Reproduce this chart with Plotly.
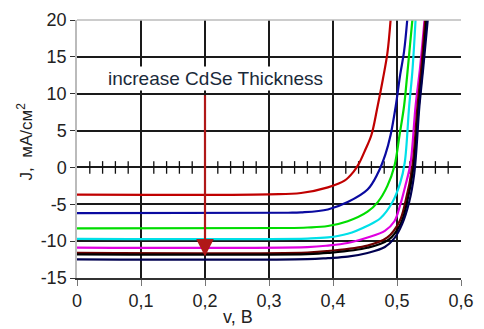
import plotly.graph_objects as go

# ---- data ----
x_ticks = [0, 0.1, 0.2, 0.3, 0.4, 0.5, 0.6]
x_tick_labels = ["0", "0,1", "0,2", "0,3", "0,4", "0,5", "0,6"]
y_ticks = [-15, -10, -5, 0, 5, 10, 15, 20]
y_tick_labels = ["-15", "-10", "-5", "0", "5", "10", "15", "20"]
minor_ticks = [0.02, 0.04, 0.06, 0.08, 0.12, 0.14, 0.16, 0.18, 0.22, 0.24, 0.26, 0.28,
               0.32, 0.34, 0.36, 0.38, 0.42, 0.44, 0.46, 0.48, 0.52, 0.54, 0.56, 0.58]

v_red = [0.0, 0.30, 0.35, 0.392, 0.418, 0.432, 0.441, 0.450, 0.460, 0.469, 0.478, 0.485, 0.490]
j_red = [-3.7, -3.65, -3.47, -2.7, -1.8, -0.6, 0.6, 2.3, 4.4, 8.0, 12.0, 15.5, 20.0]

v_blue = [0.0, 0.33, 0.35, 0.392, 0.423, 0.454, 0.470, 0.482, 0.490, 0.498, 0.505, 0.511, 0.516]
j_blue = [-6.2, -6.15, -6.1, -5.7, -4.7, -3.0, -0.8, 1.8, 4.4, 8.3, 12.6, 15.7, 20.0]

v_green = [0.0, 0.33, 0.36, 0.392, 0.423, 0.454, 0.470, 0.485, 0.496, 0.504, 0.511, 0.516, 0.524]
j_green = [-8.27, -8.22, -8.15, -7.95, -7.3, -6.0, -4.7, -2.5, 0.2, 4.4, 8.3, 12.6, 20.0]

v_cyan = [0.0, 0.36, 0.392, 0.423, 0.454, 0.474, 0.493, 0.505, 0.512, 0.519, 0.524, 0.529]
j_cyan = [-9.7, -9.65, -9.5, -9.0, -7.9, -6.9, -4.7, -2.1, 0.6, 8.3, 13.0, 20.0]

v_magenta = [0.0, 0.36, 0.392, 0.423, 0.454, 0.481, 0.496, 0.505, 0.513, 0.521, 0.529, 0.536, 0.543]
j_magenta = [-10.87, -10.8, -10.6, -10.25, -9.5, -8.6, -7.3, -5.1, -2.5, 0.5, 8.3, 13.5, 20.0]

v_maroon = [0.0, 0.36, 0.392, 0.454, 0.485, 0.504, 0.513, 0.524, 0.532, 0.538, 0.544]
j_maroon = [-11.6, -11.55, -11.35, -10.6, -9.5, -7.3, -4.7, 0.1, 8.3, 13.5, 20.0]

v_black = [0.0, 0.36, 0.392, 0.454, 0.487, 0.506, 0.515, 0.526, 0.534, 0.540, 0.546]
j_black = [-11.8, -11.75, -11.6, -10.9, -9.8, -7.6, -5.0, 0.1, 8.3, 13.5, 20.0]

v_navy = [0.0, 0.36, 0.392, 0.423, 0.454, 0.481, 0.496, 0.508, 0.519, 0.527, 0.535, 0.541, 0.548]
j_navy = [-12.47, -12.45, -12.3, -12.1, -11.6, -10.8, -9.6, -7.7, -4.7, -0.8, 8.3, 13.5, 20.0]

curves = [
    (v_red, j_red, "#c00000"),
    (v_blue, j_blue, "#0a0aa0"),
    (v_green, j_green, "#00dd00"),
    (v_cyan, j_cyan, "#00e0e8"),
    (v_magenta, j_magenta, "#e000e0"),
    (v_maroon, j_maroon, "#6a0000"),
    (v_black, j_black, "#000000"),
    (v_navy, j_navy, "#000050"),
]

arrow_x = 0.2
arrow_start_j = 10.0
arrow_end_j = -12.1
label_text = "increase CdSe Thickness"
label_x = 0.046
label_j = 12.0

FONT = "Liberation Sans, Arial, sans-serif"

fig = go.Figure()

# minor ticks crossing the zero line
fig.add_trace(go.Scatter(
    x=minor_ticks, y=[0] * len(minor_ticks), mode="markers",
    marker=dict(symbol="line-ns", size=9, line=dict(width=1.3, color="#111")),
    hoverinfo="skip", showlegend=False))

for v, j, c in curves:
    fig.add_trace(go.Scatter(
        x=v, y=j, mode="lines", line=dict(color=c, width=2.2, shape="spline", smoothing=1.0),
        showlegend=False, cliponaxis=True))

fig.add_annotation(
    x=arrow_x, y=arrow_end_j, ax=arrow_x, ay=arrow_start_j, xref="x", yref="y",
    axref="x", ayref="y", text="", showarrow=True, arrowhead=2, arrowsize=1.6,
    arrowwidth=2.2, arrowcolor="#b01818")

fig.add_annotation(
    x=label_x, y=label_j, xref="x", yref="y", text=label_text, showarrow=False,
    xanchor="left", yanchor="middle", font=dict(family=FONT, size=19, color="#1a2a3a"),
    bgcolor="white")

fig.add_annotation(
    x=-0.135, y=0.53, xref="paper", yref="paper", text="J,  мА/см<sup>2</sup>",
    textangle=-90, showarrow=False, xanchor="center", yanchor="middle",
    font=dict(family=FONT, size=17, color="#222"))

fig.add_annotation(
    x=0.42, y=-0.15, xref="paper", yref="paper", text="v, B", showarrow=False,
    xanchor="center", yanchor="middle", font=dict(family=FONT, size=18, color="#222"))

fig.update_layout(
    width=484, height=329, margin=dict(l=77, r=19, t=10, b=51),
    paper_bgcolor="white", plot_bgcolor="white",
    font=dict(family=FONT, size=18, color="#222"),
    xaxis=dict(range=[0, 0.6], tickvals=x_ticks, ticktext=x_tick_labels,
               showgrid=True, gridcolor="#1a1a1a", gridwidth=1.5,
               showline=True, linecolor="#333", linewidth=1.5,
               ticks="outside", ticklen=6, tickcolor="#777", tickwidth=1,
               zeroline=False, fixedrange=True),
    yaxis=dict(range=[-15, 20], tickvals=y_ticks, ticktext=y_tick_labels,
               showgrid=True, gridcolor="#1a1a1a", gridwidth=1.5,
               showline=True, linecolor="#bbb", linewidth=1.5,
               ticks="outside", ticklen=5, tickcolor="#333", tickwidth=1.2,
               zeroline=False, fixedrange=True),
)

# light grey top border (edge at 20)
fig.add_shape(type="line", xref="paper", yref="paper", x0=0, x1=1, y0=1, y1=1,
              line=dict(color="#bbb", width=1.5))

fig.write_html("out.html", config={"displayModeBar": False},
               post_script="document.body.style.margin='0';")
